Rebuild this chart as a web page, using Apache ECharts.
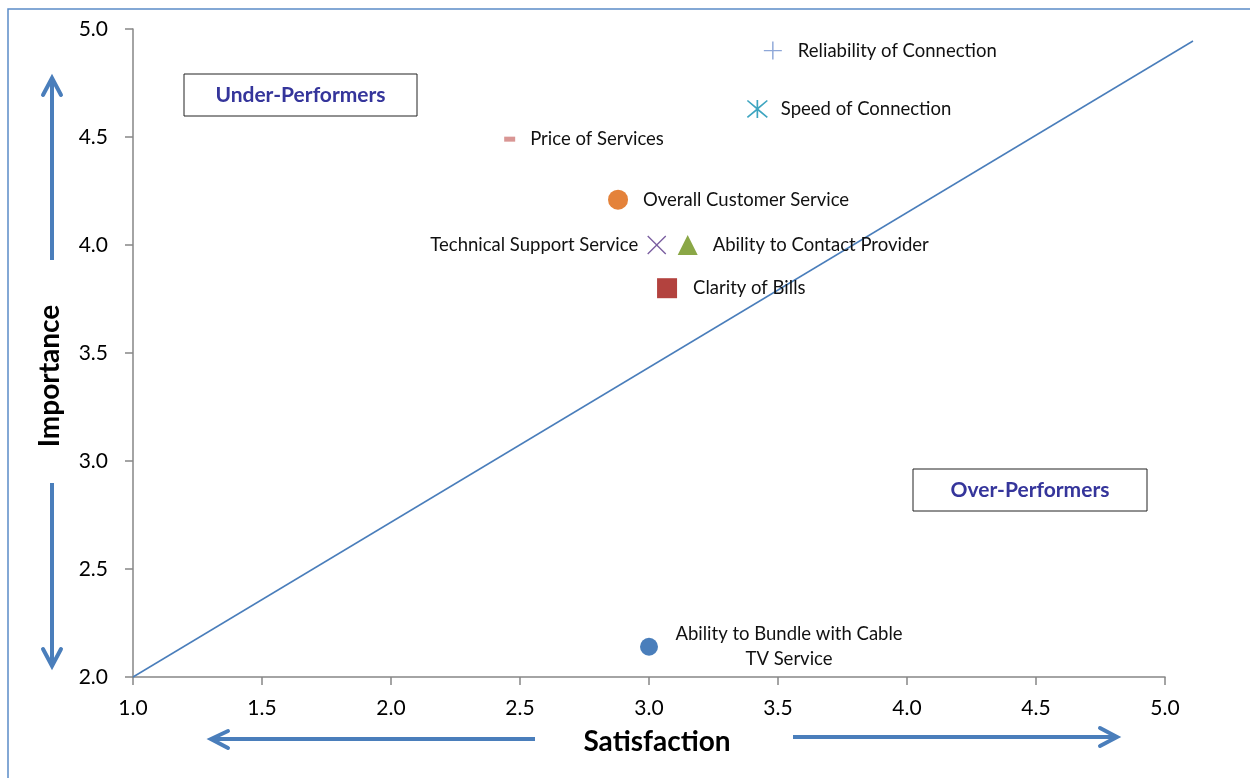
<!DOCTYPE html>
<html>
<head>
<meta charset="utf-8">
<script src="https://cdn.jsdelivr.net/npm/echarts@6/dist/echarts.min.js"></script>
<style>
  html, body { margin: 0; padding: 0; background: #fff; }
  #chart { width: 1250px; height: 778px; }
</style>
</head>
<body>
<div id="chart"></div>
<script>
// attributes
const attributes = [
  'Reliability of Connection',
  'Speed of Connection',
  'Price of Services',
  'Overall Customer Service',
  'Technical Support Service',
  'Ability to Contact Provider',
  'Clarity of Bills',
  'Ability to Bundle with Cable\nTV Service'
];
const satisfaction = [3.48, 3.42, 2.46, 2.88, 3.03, 3.15, 3.07, 3.00];
const importance = [4.90, 4.63, 4.49, 4.21, 4.00, 4.00, 3.80, 2.14];

const xTicks = [1.0, 1.5, 2.0, 2.5, 3.0, 3.5, 4.0, 4.5, 5.0];
const yTicks = [2.0, 2.5, 3.0, 3.5, 4.0, 4.5, 5.0];

// parity line, runs a little past the 5.0 edge of the axis
const parityLine = [[1.0, 2.0], [5.11, 4.95]];

const FONT = 'Lato';

const plusPath = 'path://M0,9.2 L20,9.2 L20,10.8 L0,10.8 Z M9.2,0 L10.8,0 L10.8,20 L9.2,20 Z';
const crossPath = 'path://M0,1 L1,0 L10,9 L19,0 L20,1 L11,10 L20,19 L19,20 L10,11 L1,20 L0,19 L9,10 Z';
const starPath = 'path://M0,1.2 L1,0 L10,8.6 L19,0 L20,1.2 L11.2,10 L20,18.8 L19,20 L10,11.4 L1,20 L0,18.8 L8.8,10 Z M9.2,0 L10.8,0 L10.8,20 L9.2,20 Z';

const markerStyles = [
  { symbol: plusPath, size: 18, color: '#8ea7d8', pos: 'right', dist: 16 },
  { symbol: starPath, size: [21, 18], color: '#3ea5c0', pos: 'right', dist: 13 },
  { symbol: 'rect', size: [11, 5], color: '#d99694', pos: 'right', dist: 15 },
  { symbol: 'circle', size: 20, color: '#e4823a', pos: 'right', dist: 15 },
  { symbol: crossPath, size: 19, color: '#7a5ea0', pos: 'left', dist: 9 },
  { symbol: 'triangle', size: 20, color: '#8aa746', pos: 'right', dist: 15 },
  { symbol: 'rect', size: 20, color: '#b3423e', pos: 'right', dist: 16 },
  { symbol: 'circle', size: 18, color: '#4a7ebb', pos: [149, 9], dist: 0 }
];

const pointSeries = attributes.map((name, i) => {
  const m = markerStyles[i];
  const isBundle = i === attributes.length - 1;
  return {
    type: 'scatter',
    name: name,
    symbol: m.symbol,
    symbolSize: m.size,
    itemStyle: { color: m.color, opacity: 1 },
    data: [[satisfaction[i], importance[i]]],
    z: 3,
    label: {
      show: true,
      formatter: name,
      position: m.pos,
      distance: m.dist,
      color: '#111',
      fontFamily: FONT,
      fontSize: 18.5,
      lineHeight: 25,
      padding: isBundle ? 0 : [3, 0, 0, 0],
      align: isBundle ? 'center' : undefined,
      verticalAlign: isBundle ? 'middle' : undefined
    }
  };
});

const arrowColor = '#4a7ebb';
function arrow(shaft, head) {
  return [
    { type: 'polyline', shape: { points: shaft }, style: { stroke: arrowColor, lineWidth: 4, fill: null } },
    { type: 'polyline', shape: { points: head }, style: { stroke: arrowColor, lineWidth: 4, fill: null, lineCap: 'round', lineJoin: 'miter' } }
  ];
}

function labelBox(x, y, w, h, text) {
  return [
    { type: 'rect', shape: { x: x, y: y, width: w, height: h },
      style: { fill: '#fff', stroke: '#222', lineWidth: 1 } },
    { type: 'text', x: x + w / 2, y: y + h / 2,
      style: { text: text, fill: '#35359b', font: 'bold 21px ' + FONT, align: 'center', verticalAlign: 'middle' } }
  ];
}

const axisGrey = { color: '#868686', width: 1.5 };

const chart = echarts.init(document.getElementById('chart'));
chart.setOption({
  animation: false,
  grid: [
    { left: 133, right: 85, top: 29, bottom: 101 },
    // helper grid for the parity line, which spills past x = 5.0
    { left: 133, right: 57, top: 41, bottom: 101 }
  ],
  xAxis: [
    {
      type: 'value',
      gridIndex: 0,
      min: 1, max: 5, interval: 0.5,
      name: 'Satisfaction',
      nameLocation: 'middle',
      nameGap: 51,
      nameTextStyle: { fontFamily: FONT, fontSize: 28, fontWeight: 'bold', color: '#000', padding: [0, 0, 0, 16] },
      axisLine: { show: true, onZero: false, lineStyle: axisGrey },
      axisTick: { show: true, length: 8, lineStyle: axisGrey },
      splitLine: { show: false },
      axisLabel: {
        margin: 21, color: '#000', fontFamily: FONT, fontSize: 21,
        formatter: v => xTicks.includes(v) ? v.toFixed(1) : ''
      }
    },
    {
      type: 'value',
      gridIndex: 1,
      min: parityLine[0][0], max: parityLine[1][0],
      show: false
    }
  ],
  yAxis: [
    {
      type: 'value',
      gridIndex: 0,
      min: 2, max: 5, interval: 0.5,
      name: 'Importance',
      nameLocation: 'middle',
      nameGap: 69,
      nameTextStyle: { fontFamily: FONT, fontSize: 28, fontWeight: 'bold', color: '#000', padding: [0, 46, 0, 0] },
      axisLine: { show: true, onZero: false, lineStyle: axisGrey },
      axisTick: { show: true, length: 8, lineStyle: axisGrey },
      splitLine: { show: false },
      axisLabel: {
        margin: 25, color: '#000', fontFamily: FONT, fontSize: 21,
        formatter: v => yTicks.includes(v) ? v.toFixed(1) : ''
      }
    },
    {
      type: 'value',
      gridIndex: 1,
      min: parityLine[0][1], max: parityLine[1][1],
      show: false
    }
  ],
  series: [
    {
      type: 'line',
      name: 'parity',
      xAxisIndex: 1,
      yAxisIndex: 1,
      data: parityLine,
      clip: false,
      symbol: 'none',
      silent: true,
      lineStyle: { color: '#4a7ebb', width: 1.5 },
      z: 1
    }
  ].concat(pointSeries),
  graphic: [
    { type: 'rect', shape: { x: 8, y: 9, width: 1300, height: 800 },
      style: { fill: null, stroke: '#5b8cc8', lineWidth: 1.5 }, silent: true }
  ]
    .concat(labelBox(184, 74, 233, 42, 'Under-Performers'))
    .concat(labelBox(913, 469, 234, 42, 'Over-Performers'))
    .concat(arrow([[52, 260], [52, 80]], [[43, 95], [52, 78], [61, 95]]))
    .concat(arrow([[52, 483], [52, 664]], [[43, 649], [52, 666], [61, 649]]))
    .concat(arrow([[535, 739], [213, 739]], [[228, 731], [211, 739], [228, 748]]))
    .concat(arrow([[793, 737], [1115, 737]], [[1100, 728], [1117, 737], [1100, 746]]))
});
</script>
</body>
</html>
